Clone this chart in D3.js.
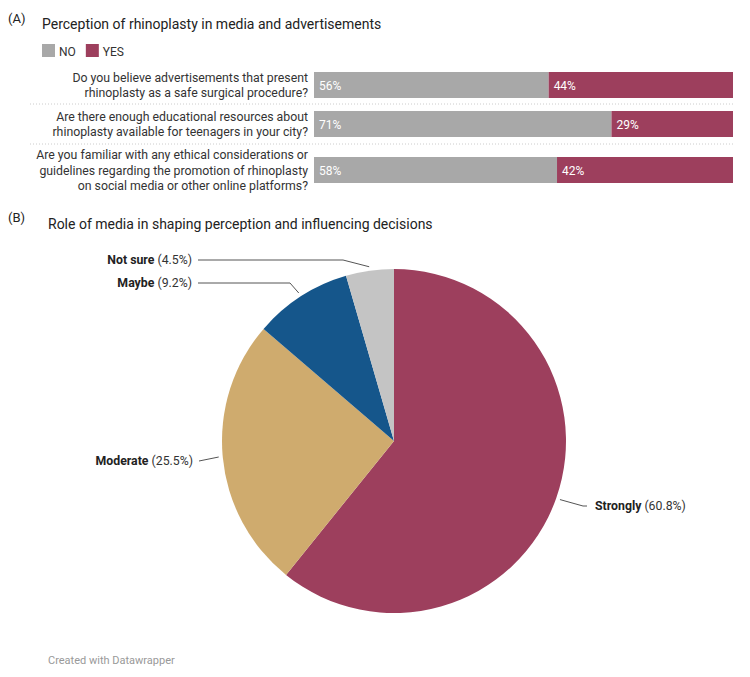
<!DOCTYPE html>
<html>
<head>
<meta charset="utf-8">
<script src="https://cdn.jsdelivr.net/npm/d3@7"></script>
<style>
  body { margin: 0; background: #fff; font-family: Roboto, "Noto Sans", sans-serif; }
  svg text { font-family: Roboto, "Noto Sans", sans-serif; }
</style>
</head>
<body>
<div class="canvas"></div>
<script>
// data
const questions = [
  ['Do you believe advertisements that present', 'rhinoplasty as a safe surgical procedure?'],
  ['Are there enough educational resources about', 'rhinoplasty available for teenagers in your city?'],
  ['Are you familiar with any ethical considerations or', 'guidelines regarding the promotion of rhinoplasty', 'on social media or other online platforms?']
];
const noValues = [56, 71, 58];
const yesValues = [44, 29, 42];
const seriesNames = ['NO', 'YES'];

const pieLabels = ['Strongly', 'Moderate', 'Maybe', 'Not sure'];
const pieValues = [60.8, 25.5, 9.2, 4.5];

const dims = {width: 750, height: 677};
const barColors = {NO: '#a8a8a8', YES: '#9d3f5d'};
const pieColors = ['#9d3f5d', '#cfab6e', '#15568b', '#c4c4c4'];

const svg = d3.select('.canvas')
  .append('svg')
  .attr('width', dims.width)
  .attr('height', dims.height);

// ---------- (A) stacked bars ----------
svg.append('text').attr('x', 8).attr('y', 23)
  .attr('font-size', 13).attr('fill', '#222').text('(A)');
svg.append('text').attr('x', 42).attr('y', 29)
  .attr('font-size', 14).attr('fill', '#222')
  .text('Perception of rhinoplasty in media and advertisements');

// legend
const legend = svg.append('g').attr('transform', 'translate(42, 44)');
let lx = 0;
seriesNames.forEach(name => {
  legend.append('rect').attr('x', lx).attr('y', 0)
    .attr('width', 13).attr('height', 13).attr('fill', barColors[name]);
  const t = legend.append('text').attr('x', lx + 17).attr('y', 11.5)
    .attr('font-size', 12).attr('fill', '#333').text(name);
  lx += 17 + t.node().getComputedTextLength() + 10;
});

const x = d3.scaleLinear().domain([0, 100]).range([314, 733]);
const rowCenters = [85, 124, 170];
const barH = 26;

const stacked = questions.map((q, i) => ({
  q, center: rowCenters[i],
  segs: [
    {key: 'NO', x0: 0, x1: noValues[i], v: noValues[i]},
    {key: 'YES', x0: noValues[i], x1: noValues[i] + yesValues[i], v: yesValues[i]}
  ]
}));

const rows = svg.selectAll('.row')
  .data(stacked)
  .enter()
  .append('g')
  .classed('row', true);

rows.selectAll('rect')
  .data(d => d.segs.map(s => ({...s, center: d.center})))
  .enter()
  .append('rect')
  .attr('x', d => x(d.x0))
  .attr('width', d => x(d.x1) - x(d.x0))
  .attr('y', d => d.center - barH / 2)
  .attr('height', barH)
  .attr('fill', d => barColors[d.key]);

rows.selectAll('.val')
  .data(d => d.segs.map(s => ({...s, center: d.center})))
  .enter()
  .append('text')
  .classed('val', true)
  .attr('x', d => x(d.x0) + 5)
  .attr('y', d => d.center + 4.5)
  .attr('font-size', 12)
  .attr('fill', '#fff')
  .text(d => d.v + '%');

// question labels
rows.each(function(d) {
  const g = d3.select(this);
  const n = d.q.length;
  const lh = 15.5;
  d.q.forEach((line, j) => {
    g.append('text')
      .attr('x', 308)
      .attr('y', d.center + (j - (n - 1) / 2) * lh + 4.5)
      .attr('text-anchor', 'end')
      .attr('font-size', 12.3)
      .attr('fill', '#333')
      .text(line);
  });
});

// dotted separators
[104, 144].forEach(yy => {
  svg.append('line')
    .attr('x1', 30).attr('x2', 733)
    .attr('y1', yy).attr('y2', yy)
    .attr('stroke', '#ccc').attr('stroke-width', 1)
    .attr('stroke-dasharray', '1,2');
});

// ---------- (B) pie ----------
svg.append('text').attr('x', 8).attr('y', 222)
  .attr('font-size', 13).attr('fill', '#222').text('(B)');
svg.append('text').attr('x', 48).attr('y', 229)
  .attr('font-size', 14).attr('fill', '#222')
  .text('Role of media in shaping perception and influencing decisions');

const cx = 394, cy = 441, r = 172;
const pie = d3.pie().sort(null).value(d => d.v);
const arc = d3.arc().innerRadius(0).outerRadius(r);
const pieData = pie(pieLabels.map((l, i) => ({label: l, v: pieValues[i], color: pieColors[i]})));

const pg = svg.append('g').attr('transform', `translate(${cx}, ${cy})`);
pg.selectAll('path')
  .data(pieData)
  .enter()
  .append('path')
  .attr('d', arc)
  .attr('fill', d => d.data.color);

// label positions (text anchor point, line elbow)
const labelPos = {
  'Strongly': {tx: 595, ty: 510, anchor: 'start', elbow: [583, 506]},
  'Moderate': {tx: 193, ty: 465, anchor: 'end', elbow: [199, 461]},
  'Maybe': {tx: 192, ty: 287, anchor: 'end', elbow: [290, 283]},
  'Not sure': {tx: 192, ty: 264, anchor: 'end', elbow: [343, 260]}
};

pieData.forEach(d => {
  const p = labelPos[d.data.label];
  const mid = (d.startAngle + d.endAngle) / 2;
  const ex = cx + Math.sin(mid) * (r + 4);
  const ey = cy - Math.cos(mid) * (r + 4);
  const startX = p.anchor === 'end' ? p.tx + 6 : p.tx - 8;
  svg.append('polyline')
    .attr('points', `${startX},${p.elbow[1]} ${p.elbow[0]},${p.elbow[1]} ${ex},${ey}`)
    .attr('fill', 'none')
    .attr('stroke', '#555')
    .attr('stroke-width', 1);
  const t = svg.append('text')
    .attr('x', p.tx).attr('y', p.ty)
    .attr('text-anchor', p.anchor)
    .attr('font-size', 12.3)
    .attr('fill', '#333');
  t.append('tspan').attr('font-weight', 'bold').attr('fill', '#222').text(d.data.label);
  t.append('tspan').text(` (${d.data.v}%)`);
});

// footer
svg.append('text').attr('x', 48).attr('y', 664)
  .attr('font-size', 11).attr('fill', '#999')
  .text('Created with Datawrapper');
</script>
</body>
</html>
